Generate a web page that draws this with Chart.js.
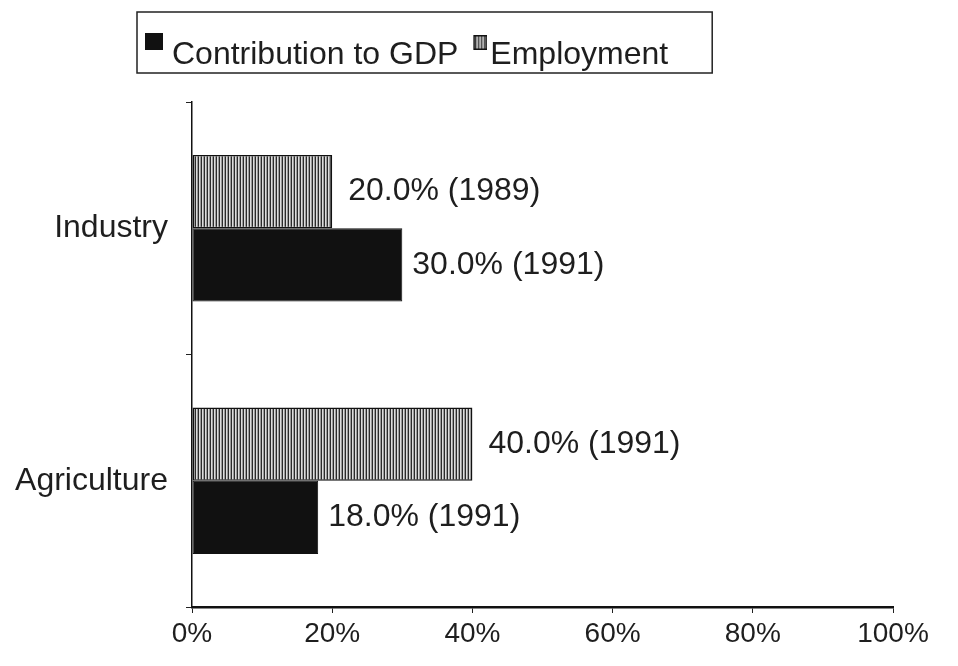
<!DOCTYPE html>
<html>
<head>
<meta charset="utf-8">
<script src="https://cdn.jsdelivr.net/npm/chart.js@4/dist/chart.umd.min.js"></script>
<style>
  html, body { margin: 0; padding: 0; background: #fff; }
  #wrap { width: 958px; height: 666px; }
</style>
</head>
<body>
<div id="wrap"><canvas id="c" width="958" height="666"></canvas></div>
<script>
const categories = ['Industry', 'Agriculture'];
const employmentValues = [20, 40];
const gdpValues = [30, 18];
const employmentLabels = ['20.0% (1989)', '40.0% (1991)'];
const gdpLabels = ['30.0% (1991)', '18.0% (1991)'];
const xTicks = ['0%', '20%', '40%', '60%', '80%', '100%'];

const FONT = '"Liberation Sans", Arial, Helvetica, sans-serif';
const INK = '#1e1e1e';

// vertical-stripe pattern for Employment
function stripeCanvas() {
  const pc = document.createElement('canvas');
  pc.width = 3; pc.height = 4;
  const p = pc.getContext('2d');
  p.fillStyle = '#dcdcdc'; p.fillRect(0, 0, 3, 4);
  p.fillStyle = '#2a2a2a'; p.fillRect(0, 0, 1, 4);
  p.fillStyle = '#9a9a9a'; p.fillRect(2, 0, 1, 4);
  return pc;
}
const stripeTile = stripeCanvas();
const stripes = document.getElementById('c').getContext('2d').createPattern(stripeTile, 'repeat');

// raised legend markers (superscript-like, as in the reference)
function markerImage(kind) {
  const m = document.createElement('canvas');
  m.height = 46;
  if (kind === 'solid') {
    m.width = 24;
    const c = m.getContext('2d');
    c.fillStyle = '#111';
    c.fillRect(6, 1, 18, 17);
  } else {
    m.width = 36;
    const c = m.getContext('2d');
    c.fillStyle = c.createPattern(stripeTile, 'repeat');
    c.fillRect(22, 3, 14, 15);
    c.strokeStyle = '#111';
    c.lineWidth = 1.5;
    c.strokeRect(22.75, 3.75, 12.5, 13.5);
  }
  return m;
}
const markers = { 'Contribution to GDP': markerImage('solid'), 'Employment': markerImage('stripe') };

const valueLabelPlugin = {
  id: 'valueLabels',
  afterDatasetsDraw(chart) {
    const ctx = chart.ctx;
    ctx.save();
    ctx.font = '32px ' + FONT;
    ctx.fillStyle = INK;
    ctx.textBaseline = 'middle';
    ctx.textAlign = 'left';
    const sets = [[0, employmentLabels, 16], [1, gdpLabels, 10]];
    for (const [di, labels, off] of sets) {
      const meta = chart.getDatasetMeta(di);
      meta.data.forEach((bar, i) => {
        ctx.fillText(labels[i], bar.x + off, bar.y);
      });
    }
    ctx.restore();
  }
};

// place the legend block where the reference has it and frame it
const legendPlacePlugin = {
  id: 'legendPlace',
  afterLayout(chart) {
    const lg = chart.legend;
    if (!lg) return;
    const dx = 140 - lg.left;
    lg.left += dx;
    lg.right += dx;
  },
  afterDraw(chart) {
    const lg = chart.legend;
    if (!lg || !lg.legendHitBoxes || !lg.legendHitBoxes.length) return;
    let l = Infinity, r = -Infinity;
    for (const h of lg.legendHitBoxes) {
      l = Math.min(l, h.left);
      r = Math.max(r, h.left + h.width);
    }
    const ctx = chart.ctx;
    ctx.save();
    ctx.strokeStyle = '#222';
    ctx.lineWidth = 1.5;
    ctx.strokeRect(l - 9, lg.top - 21, (r + 44) - (l - 9), 61);
    ctx.restore();
  }
};

new Chart(document.getElementById('c'), {
  type: 'bar',
  data: {
    labels: categories,
    datasets: [
      {
        label: 'Employment',
        data: employmentValues,
        backgroundColor: stripes,
        borderColor: '#111',
        borderWidth: 1.5,
        borderSkipped: false,
        categoryPercentage: 0.58,
        barPercentage: 1.0
      },
      {
        label: 'Contribution to GDP',
        data: gdpValues,
        backgroundColor: '#111',
        borderColor: '#111',
        borderWidth: 1,
        borderSkipped: false,
        categoryPercentage: 0.58,
        barPercentage: 1.0
      }
    ]
  },
  options: {
    indexAxis: 'y',
    responsive: false,
    animation: false,
    devicePixelRatio: 1,
    layout: { padding: { left: 0, right: 65, top: 33, bottom: 0 } },
    plugins: {
      legend: {
        display: true,
        position: 'top',
        align: 'start',
        reverse: true,
        labels: {
          color: INK,
          font: { family: FONT, size: 32 },
          usePointStyle: true,
          pointStyleWidth: 10,
          boxWidth: 10,
          boxHeight: 18,
          padding: 6,
          generateLabels(chart) {
            const items = Chart.defaults.plugins.legend.labels.generateLabels(chart);
            items.forEach(it => { it.pointStyle = markers[it.text]; });
            return items;
          }
        }
      },
      title: {
        display: true,
        text: '',
        weight: 500,
        font: { size: 1, lineHeight: 1 },
        padding: { top: 0, bottom: 20 }
      },
      tooltip: { enabled: false }
    },
    scales: {
      x: {
        type: 'linear',
        min: 0,
        max: 100,
        ticks: {
          stepSize: 20,
          color: INK,
          font: { family: FONT, size: 28 },
          padding: 4,
          maxRotation: 0,
          callback: (v) => xTicks[Math.round(v / 20)]
        },
        grid: {
          drawOnChartArea: false,
          drawTicks: true,
          tickLength: 6,
          color: '#222',
          tickColor: '#222'
        },
        border: { display: true, color: '#111', width: 2.5 },
        afterFit(scale) { scale.height = 59; }
      },
      y: {
        type: 'category',
        ticks: {
          color: INK,
          font: { family: FONT, size: 32 },
          padding: 18
        },
        grid: {
          offset: true,
          drawOnChartArea: false,
          drawTicks: true,
          tickLength: 6,
          color: '#222',
          tickColor: '#222'
        },
        border: { display: true, color: '#111', width: 1.5 },
        afterFit(scale) { scale.width = 192; }
      }
    }
  },
  plugins: [valueLabelPlugin, legendPlacePlugin]
});
</script>
</body>
</html>
